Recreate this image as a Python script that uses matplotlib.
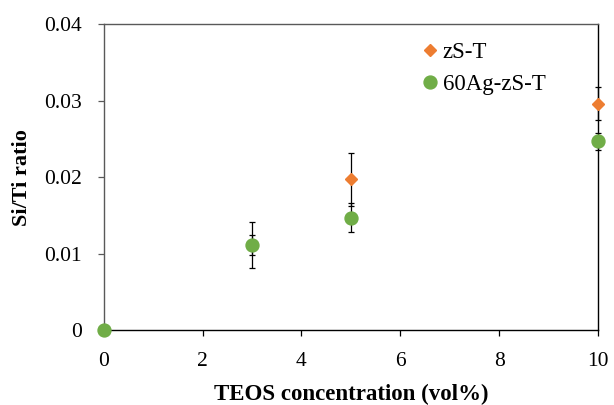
import matplotlib
matplotlib.use("Agg")
import matplotlib.pyplot as plt

# TEOS concentration (vol%)
teos = [0, 3, 5, 10]

# Si/Ti ratio and standard deviations per sample series
zst_ratio = [0.0, 0.0112, 0.0197, 0.0296]
zst_err = [0.0, 0.0013, 0.0035, 0.0022]

ag_ratio = [0.0, 0.0112, 0.0147, 0.0247]
ag_err = [0.0, 0.0030, 0.0019, 0.0011]

series_names = ["zS-T", "60Ag-zS-T"]
x_ticks = [0, 2, 4, 6, 8, 10]
y_ticks = [0, 0.01, 0.02, 0.03, 0.04]
y_ticklabels = ["0", "0.01", "0.02", "0.03", "0.04"]

plt.rcParams["font.family"] = ["Liberation Serif", "DejaVu Serif"]

fig = plt.figure(figsize=(6.14, 4.05), dpi=100)
ax = fig.add_axes([0.169, 0.184, 0.805, 0.757])

orange = "#ED7D31"
green = "#70AD47"

ax.errorbar(teos, zst_ratio, yerr=zst_err, fmt="D", color=orange, ms=6,
            mec=orange, ecolor="black", elinewidth=0.9, capsize=2,
            capthick=0.9, label=series_names[0], zorder=3, clip_on=False)
ax.errorbar(teos, ag_ratio, yerr=ag_err, fmt="o", color=green, ms=9.3,
            mec=green, ecolor="black", elinewidth=0.9, capsize=2,
            capthick=0.9, label=series_names[1], zorder=4, clip_on=False)

ax.set_xlim(0, 10)
ax.set_ylim(0, 0.04)
ax.set_xticks(x_ticks)
ax.set_xticklabels([str(v) for v in x_ticks])
ax.set_yticks(y_ticks)
ax.set_yticklabels(y_ticklabels)

ax.tick_params(axis="both", direction="out", labelsize=15.5, length=4.5,
               width=0.9, pad=11)
ax.tick_params(axis="y", colors="#595959", labelcolor="black")
ax.tick_params(axis="x", colors="black", labelcolor="black")

ax.spines["left"].set_color("#595959")
ax.spines["top"].set_color("#595959")
ax.spines["bottom"].set_color("black")
ax.spines["right"].set_color("black")
for s in ax.spines.values():
    s.set_linewidth(1.0)

ax.set_xlabel("TEOS concentration (vol%)", fontsize=16.5, fontweight="bold",
              labelpad=9)
ax.set_ylabel("Si/Ti ratio", fontsize=16, fontweight="bold", labelpad=9)

handles, labels = ax.get_legend_handles_labels()
handles = [h[0] for h in handles]
ax.legend(handles, labels, loc="upper left", bbox_to_anchor=(0.595, 1.007),
          frameon=False, fontsize=16.5, handletextpad=0.05, handlelength=1.0,
          labelspacing=0.45)

fig.savefig("out.png", dpi=100)
